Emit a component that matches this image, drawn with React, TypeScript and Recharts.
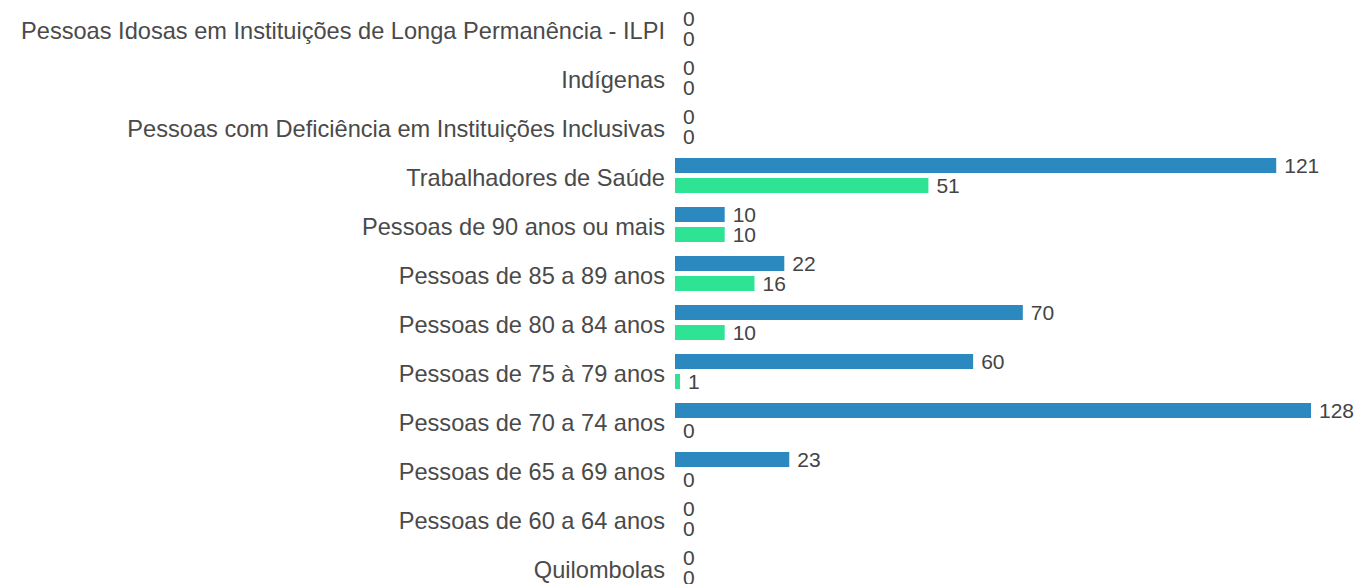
import React from 'react';
import { BarChart, Bar, XAxis, YAxis, LabelList, Rectangle } from 'recharts';

const categories = [
  'Pessoas Idosas em Instituições de Longa Permanência - ILPI',
  'Indígenas',
  'Pessoas com Deficiência em Instituições Inclusivas',
  'Trabalhadores de Saúde',
  'Pessoas de 90 anos ou mais',
  'Pessoas de 85 a 89 anos',
  'Pessoas de 80 a 84 anos',
  'Pessoas de 75 à 79 anos',
  'Pessoas de 70 a 74 anos',
  'Pessoas de 65 a 69 anos',
  'Pessoas de 60 a 64 anos',
  'Quilombolas',
];
const dose1 = [0, 0, 0, 121, 10, 22, 70, 60, 128, 23, 0, 0];
const dose2 = [0, 0, 0, 51, 10, 16, 10, 1, 0, 0, 0, 0];

const BLUE = '#2b89c0';
const GREEN = '#2ee394';
const FONT = '"Liberation Sans", Arial, sans-serif';

const data = categories.map((name, i) => ({ name, dose1: dose1[i], dose2: dose2[i] }));

// zero values still get a 1px bar (minPointSize) so their labels render; the shape hides it
const makeShape = (key: 'dose1' | 'dose2') => (props: any) => {
  if (!props.payload || props.payload[key] === 0) return <g />;
  return <Rectangle {...props} />;
};

const renderLabel = (props: any) => {
  const { x, y, width, height, value } = props;
  const zero = Number(value) === 0;
  return (
    <text
      x={Number(x) + (zero ? 0 : Number(width)) + 8}
      y={Number(y) + Number(height) / 2}
      dy="0.355em"
      fontSize={21}
      fill="#444"
      fontFamily={FONT}
    >
      {value}
    </text>
  );
};

const App = () => {
  return (
    <div style={{ position: 'absolute', left: 0, top: 0, width: 1359, height: 584, overflow: 'hidden', background: '#fff', fontFamily: FONT }}>
      <BarChart
        width={1359}
        height={600}
        data={data}
        layout="vertical"
        margin={{ top: 4, right: 48, bottom: 8, left: 0 }}
        barSize={15}
        barGap={5}
      >
        <XAxis type="number" domain={[0, 128]} hide />
        <YAxis
          type="category"
          dataKey="name"
          width={675}
          axisLine={false}
          tickLine={false}
          tickSize={0}
          tickMargin={10}
          interval={0}
          tick={{ fontSize: 23.6, fill: '#4a4a4a', fontFamily: FONT, dy: 2 }}
        />
        <Bar dataKey="dose1" fill={BLUE} minPointSize={1} shape={makeShape('dose1')} isAnimationActive={false}>
          <LabelList dataKey="dose1" content={renderLabel} />
        </Bar>
        <Bar dataKey="dose2" fill={GREEN} minPointSize={1} shape={makeShape('dose2')} isAnimationActive={false}>
          <LabelList dataKey="dose2" content={renderLabel} />
        </Bar>
      </BarChart>
    </div>
  );
};

export default App;
